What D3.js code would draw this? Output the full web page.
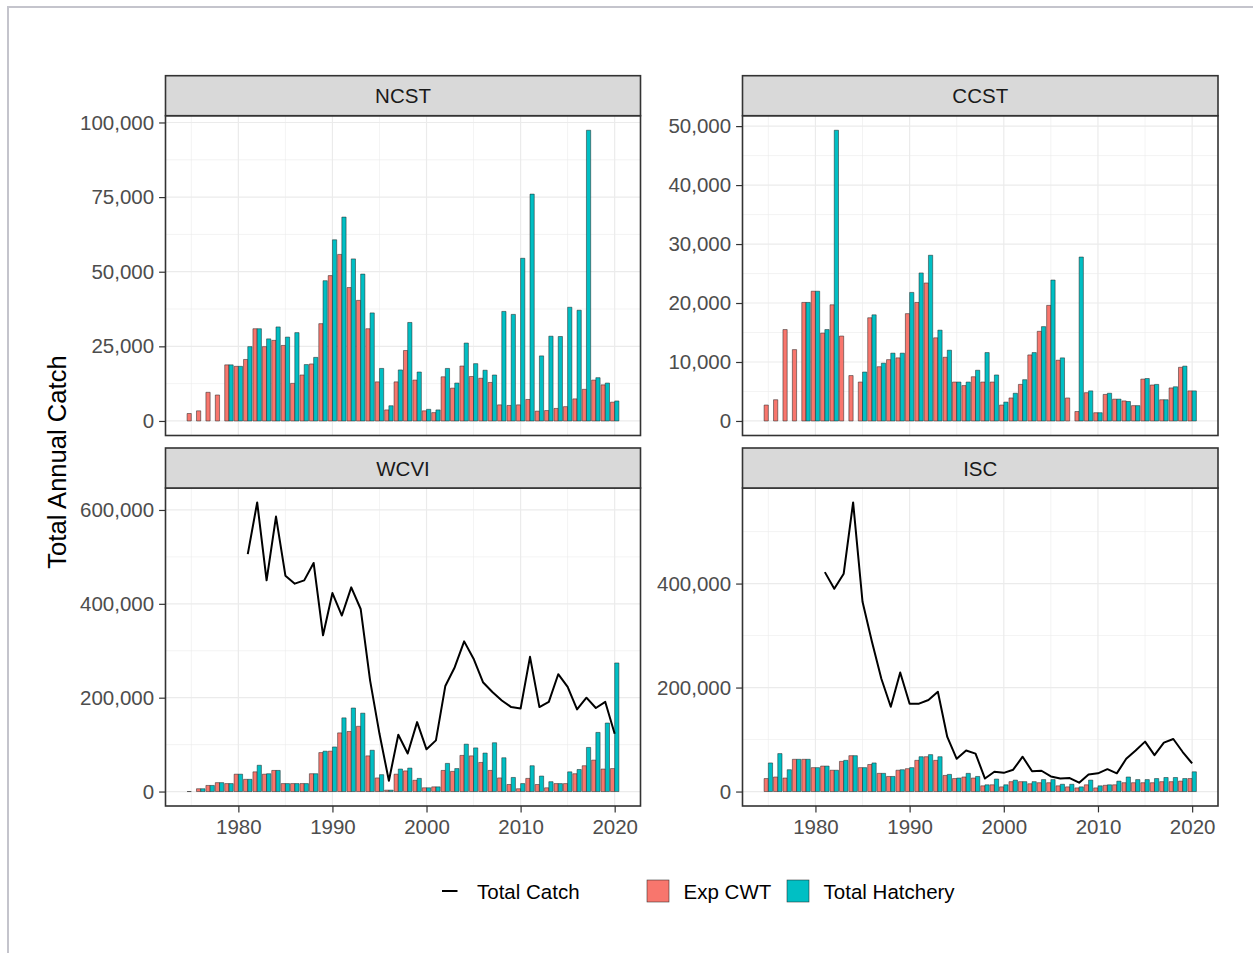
<!DOCTYPE html>
<html>
<head>
<meta charset="utf-8">
<script src="https://cdn.jsdelivr.net/npm/d3@7"></script>
<style>
  html, body { margin: 0; padding: 0; background: #ffffff; }
  svg { display: block; }
  text { font-family: "Liberation Sans", Arial, sans-serif; }
</style>
</head>
<body>
<div id="chart"></div>
<script>
// ---- data (catch counts, fish) ----
const years = d3.range(1975, 2021);

const ncstExpCWT = [2500, 3400, 9600, 8700, 18800, 18300, 20600, 30900, 24900, 27000,
  25300, 12600, 15400, 19100, 32600, 48700, 55800, 44700, 40400, 30900,
  13100, 3700, 13100, 23600, 13700, 3400, 2800, 14800, 11000, 18400,
  14900, 14300, 12900, 5400, 5200, 5400, 7200, 3300, 3500, 4200,
  4800, 7400, 10600, 13700, 12100, 6300];
const ncstHatchery = [null, null, null, null, 18800, 18300, 24900, 30900, 27500, 31500,
  28100, 29600, 18900, 21300, 47000, 60700, 68300, 54300, 49200, 36200,
  17600, 5100, 17100, 33000, 16400, 3900, 3700, 17600, 12700, 26100,
  19200, 17000, 15400, 36700, 35700, 54500, 76000, 21800, 28400, 28300,
  38100, 37100, 97400, 14500, 12700, 6700];

const ccstExpCWT = [2700, 3600, 15500, 12100, 20100, 22000, 14900, 19700, 14400, 7700,
  6600, 17500, 9200, 10400, 10700, 18200, 20100, 23400, 14100, 10800,
  6600, 6000, 7500, 6600, 6600, 2700, 3900, 6200, 11200, 15200,
  19600, 10300, 3900, 1600, 4800, 1400, 4500, 3700, 3400, 2600,
  7100, 6100, 3600, 5600, 9100, 5100];
const ccstHatchery = [null, null, null, null, 20100, 22000, 15500, 49300, null, null,
  8300, 18000, 9800, 11500, 11500, 21800, 25100, 28100, 15400, 12000,
  6600, 6600, 8600, 11600, 7800, 3200, 4700, 7000, 11600, 16000,
  23900, 10700, null, 27800, 5100, 1400, 4700, 3700, 3300, 2600,
  7200, 6200, 3600, 5800, 9300, 5100];

const wcviExpCWT = [0, 6000, 13000, 19000, 17000, 37000, 26000, 42000, 37000, 45000,
  17000, 17000, 17000, 38000, 83000, 86000, 125000, 128000, 139000, 76000,
  29000, 3000, 37000, 44000, 24000, 8000, 10000, 45000, 43000, 77000,
  76000, 62000, 45000, 29000, 15000, 6000, 28000, 15000, 8000, 17000,
  17000, 38000, 55000, 67000, 48000, 49000];
const wcviHatchery = [null, 6000, 13000, 19000, 17000, 37000, 26000, 56000, 38000, 45000,
  17000, 17000, 17000, 38000, 86000, 95000, 157000, 178000, 167000, 88000,
  36000, 3000, 48000, 50000, 28000, 8000, 10000, 60000, 49000, 101000,
  93000, 82000, 104000, 72000, 30000, 17000, 55000, 33000, 21000, 17000,
  42000, 47000, 94000, 126000, 146000, 274000];
const wcviTotal = [null, null, null, null, null, null, 506000, 616000, 450000, 586000,
  460000, 443000, 450000, 487000, 333000, 423000, 375000, 435000, 389000, 237000,
  123000, 23000, 121000, 81000, 148000, 90000, 109000, 225000, 265000, 320000,
  283000, 233000, 212000, 194000, 180000, 177000, 287000, 180000, 191000, 250000,
  223000, 175000, 200000, 178000, 191000, 123000];

const iscExpCWT = [25000, 28000, 26000, 62000, 62000, 46000, 49000, 41000, 58000, 69000,
  46000, 52000, 35000, 29000, 41000, 44000, 60000, 67000, 60000, 31000,
  25000, 28000, 26000, 11000, 13000, 9000, 19000, 19000, 15000, 17000,
  17000, 11000, 9000, 7000, 13000, 7000, 12000, 13000, 17000, 17000,
  17000, 17000, 19000, 19000, 20000, 25000];
const iscHatchery = [55000, 73000, 42000, 62000, 62000, 46000, 49000, 41000, 60000, 69000,
  46000, 55000, 35000, 29000, 42000, 46000, 67000, 71000, 67000, 33000,
  26000, 35000, 29000, 13000, 24000, 13000, 22000, 19000, 19000, 23000,
  23000, 14000, 14000, 9000, 22000, 11000, 13000, 20000, 28000, 23000,
  23000, 25000, 27000, 27000, 25000, 38000];
const iscTotal = [null, null, null, null, null, null, 422000, 390000, 419000, 556000,
  365000, 288000, 217000, 163000, 229000, 169000, 169000, 176000, 192000, 105000,
  63000, 79000, 73000, 25000, 38000, 36000, 42000, 67000, 39000, 40000,
  29000, 25000, 26000, 17000, 33000, 35000, 43000, 35000, 63000, 79000,
  96000, 70000, 94000, 101000, 76000, 54000];

// tick labels
const xTicks = [1980, 1990, 2000, 2010, 2020];
const ncstTicks = [0, 25000, 50000, 75000, 100000];
const ccstTicks = [0, 10000, 20000, 30000, 40000, 50000];
const wcviTicks = [0, 200000, 400000, 600000];
const iscTicks = [0, 200000, 400000];

const seriesNames = ["Total Catch", "Exp CWT", "Total Hatchery"];
const regions = ["NCST", "CCST", "WCVI", "ISC"];

// ---- facets built from the arrays above ----
const facets = [
  { name: regions[0], exp: ncstExpCWT, hat: ncstHatchery, total: null, ticks: ncstTicks, col: 0, row: 0 },
  { name: regions[1], exp: ccstExpCWT, hat: ccstHatchery, total: null, ticks: ccstTicks, col: 1, row: 0 },
  { name: regions[2], exp: wcviExpCWT, hat: wcviHatchery, total: wcviTotal, ticks: wcviTicks, col: 0, row: 1 },
  { name: regions[3], exp: iscExpCWT, hat: iscHatchery, total: iscTotal, ticks: iscTicks, col: 1, row: 1 }
];

// ---- layout ----
const W = 1253, H = 953;
const colX = [[165.5, 640.5], [742.5, 1218]];
const rowY = [{ strip: 75.7, top: 115.7, bottom: 435.5 }, { strip: 448, top: 488, bottom: 806 }];
const fillExp = "#F8766D", fillHat = "#00BFC4";
const gridCol = "#EBEBEB", frameCol = "#333333", tickTextCol = "#4D4D4D";
const smallFont = 20.5, titleFont = 25.6;
const dodge = 0.45;

const svg = d3.select("#chart").append("svg")
  .attr("width", W).attr("height", H);

svg.append("rect").attr("width", W).attr("height", H).attr("fill", "#fff");
// outer frame of the figure
svg.append("rect").attr("x", 8).attr("y", 7).attr("width", 1300).attr("height", 1000)
  .attr("fill", "none").attr("stroke", "#C4C4CC").attr("stroke-width", 2);

// shared x domain: bar extents plus 5% padding
const xmin = d3.min(years) - dodge, xmax = d3.max(years) + dodge;
const xpad = (xmax - xmin) * 0.05;

const fmt = d3.format(",");

facets.forEach(f => {
  const [x0, x1] = colX[f.col];
  const r = rowY[f.row];
  const x = d3.scaleLinear().domain([xmin - xpad, xmax + xpad]).range([x0, x1]);
  const vals = [0].concat(f.exp, f.hat, f.total || []).filter(v => v != null);
  const ymax = d3.max(vals), ymin = 0;
  const ypad = (ymax - ymin) * 0.05;
  const y = d3.scaleLinear().domain([ymin - ypad, ymax + ypad]).range([r.bottom, r.top]);

  const g = svg.append("g");

  // grid: minor then major
  const xMinor = xTicks.slice(0, -1).map(t => t + 5).concat([xTicks[0] - 5])
    .filter(t => t > x.domain()[0] && t < x.domain()[1]);
  const yStep = f.ticks[1] - f.ticks[0];
  const yMinor = f.ticks.map(t => t + yStep / 2).filter(t => t < y.domain()[1]);

  g.selectAll(".gxm").data(xMinor).join("line")
    .attr("x1", d => x(d)).attr("x2", d => x(d)).attr("y1", r.top).attr("y2", r.bottom)
    .attr("stroke", gridCol).attr("stroke-width", 0.6);
  g.selectAll(".gym").data(yMinor).join("line")
    .attr("x1", x0).attr("x2", x1).attr("y1", d => y(d)).attr("y2", d => y(d))
    .attr("stroke", gridCol).attr("stroke-width", 0.6);
  g.selectAll(".gx").data(xTicks).join("line")
    .attr("x1", d => x(d)).attr("x2", d => x(d)).attr("y1", r.top).attr("y2", r.bottom)
    .attr("stroke", gridCol).attr("stroke-width", 1.2);
  g.selectAll(".gy").data(f.ticks).join("line")
    .attr("x1", x0).attr("x2", x1).attr("y1", d => y(d)).attr("y2", d => y(d))
    .attr("stroke", gridCol).attr("stroke-width", 1.2);

  // bars: Exp CWT on the left half of each year, Total Hatchery on the right
  const bars = [];
  years.forEach((yr, i) => {
    if (f.exp[i] != null) bars.push({ a: yr - dodge, b: yr, v: f.exp[i], fill: fillExp });
    if (f.hat[i] != null) bars.push({ a: yr, b: yr + dodge, v: f.hat[i], fill: fillHat });
  });
  g.selectAll(".bar").data(bars).join("path")
    .attr("d", d => `M${x(d.a)},${y(0)}V${y(d.v)}H${x(d.b)}V${y(0)}Z`)
    .attr("fill", d => d.fill)
    .attr("stroke", "#222").attr("stroke-width", 0.6).attr("stroke-opacity", 0.85);

  // total catch line
  if (f.total) {
    const pts = years.map((yr, i) => ({ yr, v: f.total[i] })).filter(d => d.v != null);
    const line = d3.line().x(d => x(d.yr)).y(d => y(d.v));
    g.append("path").datum(pts).attr("d", line)
      .attr("fill", "none").attr("stroke", "#000").attr("stroke-width", 2)
      .attr("stroke-linejoin", "round");
  }

  // panel border
  g.append("rect").attr("x", x0).attr("y", r.top).attr("width", x1 - x0).attr("height", r.bottom - r.top)
    .attr("fill", "none").attr("stroke", frameCol).attr("stroke-width", 1.6);

  // strip
  g.append("rect").attr("x", x0).attr("y", r.strip).attr("width", x1 - x0).attr("height", r.top - r.strip)
    .attr("fill", "#D9D9D9").attr("stroke", frameCol).attr("stroke-width", 1.6);
  g.append("text").attr("x", (x0 + x1) / 2).attr("y", (r.strip + r.top) / 2)
    .attr("text-anchor", "middle").attr("dominant-baseline", "central")
    .attr("font-size", smallFont).attr("fill", "#1A1A1A").text(f.name);

  // y axis
  const ya = g.append("g").attr("transform", `translate(${x0},0)`)
    .call(d3.axisLeft(y).tickValues(f.ticks).tickFormat(fmt).tickSize(6.4).tickPadding(5));
  ya.select(".domain").remove();
  ya.selectAll(".tick line").attr("stroke", frameCol).attr("stroke-width", 1.2);
  ya.selectAll(".tick text").attr("fill", tickTextCol).attr("font-size", smallFont)
    .attr("font-family", "Liberation Sans, Arial, sans-serif");

  // x axis on the bottom row only
  if (f.row === 1) {
    const xa = g.append("g").attr("transform", `translate(0,${r.bottom})`)
      .call(d3.axisBottom(x).tickValues(xTicks).tickFormat(d3.format("d")).tickSize(6.4).tickPadding(7));
    xa.select(".domain").remove();
    xa.selectAll(".tick line").attr("stroke", frameCol).attr("stroke-width", 1.2);
    xa.selectAll(".tick text").attr("fill", tickTextCol).attr("font-size", smallFont)
      .attr("font-family", "Liberation Sans, Arial, sans-serif");
  }
});

// y axis title
svg.append("text").attr("transform", "translate(57,462) rotate(-90)")
  .attr("text-anchor", "middle").attr("dominant-baseline", "central")
  .attr("font-size", titleFont).attr("fill", "#000").text("Total Annual Catch");

// legend
const ly = 891;
const lg = svg.append("g");
lg.append("line").attr("x1", 442).attr("x2", 457.5).attr("y1", ly).attr("y2", ly)
  .attr("stroke", "#000").attr("stroke-width", 2);
lg.append("text").attr("x", 477).attr("y", ly).attr("dominant-baseline", "central")
  .attr("font-size", smallFont).attr("fill", "#000").text(seriesNames[0]);
const keys = [
  { x: 647, tx: 683.6, fill: fillExp, label: seriesNames[1] },
  { x: 787, tx: 823.6, fill: fillHat, label: seriesNames[2] }
];
keys.forEach(k => {
  lg.append("rect").attr("x", k.x).attr("y", ly - 11).attr("width", 22).attr("height", 22)
    .attr("fill", k.fill).attr("stroke", "#222").attr("stroke-width", 0.6).attr("stroke-opacity", 0.85);
  lg.append("text").attr("x", k.tx).attr("y", ly).attr("dominant-baseline", "central")
    .attr("font-size", smallFont).attr("fill", "#000").text(k.label);
});
</script>
</body>
</html>
